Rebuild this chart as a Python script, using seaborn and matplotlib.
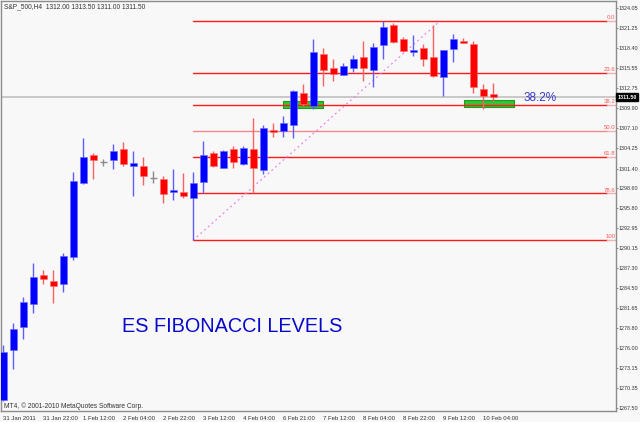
import numpy as np
import seaborn as sns
import matplotlib.pyplot as plt
from matplotlib.patches import Rectangle
from matplotlib.transforms import blended_transform_factory

sns.set_style("white")
plt.rcParams['font.family'] = ['Liberation Sans', 'DejaVu Sans']

BG = "#f8f8f8"

# H4 candles, S&P 500 futures
opens = [1268.7, 1275.7, 1279.0, 1282.2, 1286.3, 1285.5, 1285.1, 1288.9, 1299.4, 1303.3,
         1302.3, 1302.6, 1304.2, 1301.8, 1301.8, 1300.1, 1299.9, 1298.1, 1298.1, 1297.2,
         1299.5, 1303.6, 1301.5, 1304.2, 1302.0, 1304.2, 1301.2, 1306.8, 1306.7, 1307.6,
         1312.1, 1310.2, 1317.6, 1315.6, 1314.6, 1315.6, 1317.2, 1315.3, 1318.9, 1321.7,
         1319.7, 1317.9, 1318.4, 1317.2, 1314.3, 1318.3, 1319.4, 1319.0, 1312.6, 1312.0]
highs = [1276.5, 1279.6, 1283.2, 1288.0, 1287.1, 1287.1, 1289.5, 1300.9, 1305.7, 1303.6,
         1302.7, 1304.9, 1305.2, 1303.9, 1303.0, 1301.1, 1300.3, 1301.3, 1300.8, 1300.9,
         1305.3, 1303.9, 1304.0, 1304.6, 1304.6, 1308.5, 1307.6, 1307.8, 1308.8, 1312.5,
         1313.4, 1319.7, 1318.4, 1316.9, 1316.3, 1317.5, 1319.4, 1319.1, 1322.25, 1322.0,
         1320.0, 1320.3, 1319.0, 1321.7, 1318.2, 1320.4, 1319.9, 1319.4, 1313.3, 1313.5]
lows = [1268.5, 1273.1, 1277.3, 1281.0, 1285.1, 1282.4, 1283.9, 1288.5, 1299.2, 1299.9,
        1301.8, 1301.3, 1301.8, 1297.5, 1299.1, 1299.4, 1296.5, 1297.0, 1297.2, 1291.25,
        1297.9, 1301.6, 1301.5, 1301.5, 1301.9, 1297.9, 1300.6, 1305.9, 1305.9, 1305.7,
        1310.2, 1309.8, 1313.1, 1313.8, 1314.6, 1315.0, 1313.8, 1312.9, 1316.9, 1319.1,
        1317.9, 1317.3, 1315.9, 1314.3, 1311.7, 1316.4, 1319.1, 1312.1, 1309.8, 1311.0]
closes = [1275.5, 1278.7, 1282.5, 1286.1, 1285.8, 1284.8, 1289.0, 1299.6, 1303.0, 1302.6,
          1302.3, 1303.9, 1302.0, 1302.2, 1300.3, 1300.1, 1297.8, 1298.4, 1297.5, 1299.4,
          1303.3, 1301.8, 1303.9, 1302.3, 1304.3, 1301.5, 1307.1, 1306.6, 1307.8, 1312.4,
          1310.5, 1317.9, 1315.3, 1314.8, 1315.9, 1316.9, 1315.6, 1318.6, 1321.4, 1319.3,
          1318.0, 1318.2, 1316.9, 1314.5, 1318.2, 1319.7, 1319.1, 1312.9, 1311.7, 1311.5]

xtick_idx = list(range(0, 49, 4))
xtick_labels = ["31 Jan 2011", "31 Jan 22:00", "1 Feb 12:00", "2 Feb 04:00", "2 Feb 22:00",
                "3 Feb 12:00", "4 Feb 04:00", "6 Feb 21:00", "7 Feb 12:00", "8 Feb 04:00",
                "8 Feb 22:00", "9 Feb 12:00", "10 Feb 04:00"]
ytick_vals = [1324.05, 1321.25, 1318.40, 1315.55, 1312.75, 1309.90, 1307.10, 1304.25,
              1301.40, 1298.60, 1295.80, 1292.95, 1290.15, 1287.30, 1284.50, 1281.65,
              1278.80, 1276.00, 1273.15, 1270.35, 1267.50]

# fibonacci retracement anchors (bar index, price)
fib_low_idx, fib_low = 19, 1291.25
fib_high_idx, fib_high = 43.7, 1322.25
fib_levels = [0.0, 23.6, 38.2, 50.0, 61.8, 78.6, 100.0]
fib_names = ["0.0", "23.6", "38.2", "50.0", "61.8", "78.6", "100"]

# support zones (start idx, end idx, bottom, top)
zones = [(28.0, 32.0, 1309.9, 1311.0), (46.1, 51.1, 1310.15, 1311.1)]

last_price = 1311.50

SMALL = 4.3
YSIZE = 3.9


def main():
  fig = plt.figure(figsize=(6.4, 4.22), dpi=100, facecolor=BG)
  ax = fig.add_axes([1 / 640, 11 / 422, 615 / 640, 410 / 422])
  ax.set_facecolor(BG)

  o = np.array(opens); h = np.array(highs); l = np.array(lows); c = np.array(closes)
  x = np.arange(len(o))
  up = c > o
  down = c < o
  doji = c == o

  # zones behind the candles
  for x0, x1, b, t in zones:
    ax.add_patch(Rectangle((x0, b), x1 - x0, t - b, facecolor="#36c236",
                           edgecolor="#1a9e1a", lw=0.8, zorder=1))

  # bid line
  ax.axhline(last_price, color="#c4c4c4", lw=1.3, zorder=1)

  # fib levels
  rng = fib_high - fib_low
  for lev, name in zip(fib_levels, fib_names):
    p = fib_high - rng * lev / 100.0
    col = "#f08888" if lev == 50.0 else "#ff1a1a"
    ax.plot([fib_low_idx, 60.4], [p, p], color=col, lw=1.0, zorder=2)
    ax.plot([60.4, 61.3], [p, p], color="#f6b0b0", lw=1.0, zorder=2)
    ax.text(61.25, p + 0.12, name, ha="right", va="bottom", fontsize=SMALL, color="#ff5555")

  sns.lineplot(x=[fib_low_idx, fib_high_idx], y=[fib_low, fib_high], ax=ax,
               color="#ee82ee", lw=0.9, linestyle=(0, (1.5, 2.5)), zorder=2)

  # wicks
  ax.vlines(x[up], l[up], h[up], color="#5c5cff", lw=1.0, zorder=3)
  ax.vlines(x[down], l[down], h[down], color="#ff6060", lw=1.0, zorder=3)
  ax.vlines(x[doji], l[doji], h[doji], color="#8a8a8a", lw=1.0, zorder=3)
  ax.hlines(o[doji], x[doji] - 0.35, x[doji] + 0.35, color="#8a8a8a", lw=1.0, zorder=3)

  # bodies
  ax.bar(x[up], c[up] - o[up], bottom=o[up], width=0.7, color="#0000ff",
         edgecolor="#6a6aff", lw=0.4, zorder=4)
  ax.bar(x[down], c[down] - o[down], bottom=o[down], width=0.7, color="#ff0000",
         edgecolor="#ff7070", lw=0.4, zorder=4)

  ax.set_xlim(-0.2, 61.3)
  ax.set_ylim(1267.12, 1325.08)

  for s in ax.spines.values():
    s.set_color("#8c8c8c")
    s.set_linewidth(1.0)

  ax.set_xticks(xtick_idx)
  ax.set_xticklabels(xtick_labels, ha="left")
  ax.yaxis.tick_right()
  ax.set_yticks(ytick_vals)
  ax.set_yticklabels(["{:.2f}".format(v) for v in ytick_vals])
  ax.tick_params(axis="x", length=3, width=0.8, color="#8c8c8c", pad=0.5,
                 labelsize=SMALL, labelcolor="#333333")
  ax.tick_params(axis="y", length=1.5, width=0.8, color="#8c8c8c", pad=0.4,
                 labelsize=YSIZE, labelcolor="#333333")
  ax.grid(False)

  tr = blended_transform_factory(ax.transAxes, ax.transData)
  ax.text(1.002, last_price, "1311.50", transform=tr, ha="left", va="center",
          fontsize=YSIZE, fontweight="bold", color="white",
          bbox=dict(facecolor="black", edgecolor="black", pad=1.0), clip_on=False)

  ax.text(0.005, 0.985, "S&P_500,H4  1312.00 1313.50 1311.00 1311.50", transform=ax.transAxes,
          ha="left", va="center", fontsize=4.8, color="#333333")
  ax.text(0.005, 0.012, "MT4, \u00a9 2001-2010 MetaQuotes Software Corp.", transform=ax.transAxes,
          ha="left", va="center", fontsize=4.8, color="#333333")

  ax.text(11.9, 1279.0, "ES FIBONACCI LEVELS", ha="left", va="center",
          fontsize=14.3, color="#0808cc")
  ax.text(52.1, 1311.4, "38.2%", ha="left", va="center", fontsize=8.5, color="#3a3acc")

  fig.savefig("out.png", dpi=100, facecolor=BG)


if __name__ == "__main__":
  main()
